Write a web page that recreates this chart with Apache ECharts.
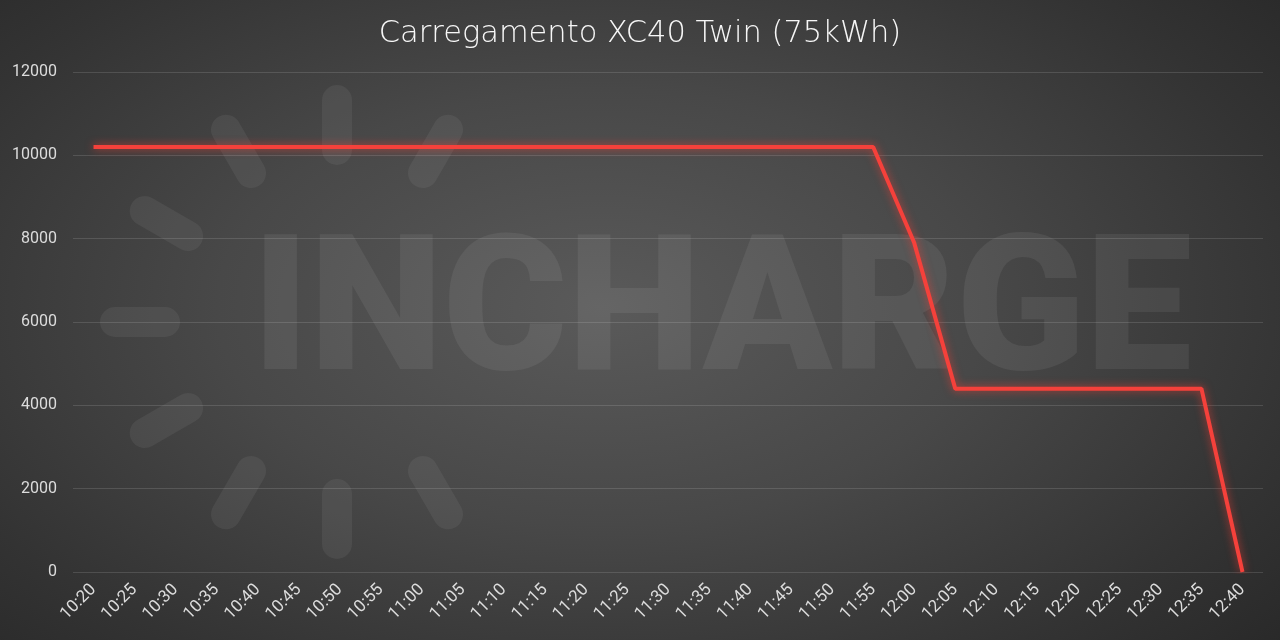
<!DOCTYPE html>
<html>
<head>
<meta charset="utf-8">
<script src="https://cdn.jsdelivr.net/npm/echarts@6/dist/echarts.min.js"></script>
<style>
  html, body { margin: 0; padding: 0; }
  #chart {
    width: 1280px; height: 640px;
    background: radial-gradient(ellipse 75% 85% at 47% 48%, #5a5a5a 0%, #484848 40%, #333333 75%, #262626 100%);
  }
</style>
</head>
<body>
<div id="chart"></div>
<script>
// orari di carica (ogni 5 minuti)
const orari = ['10:20','10:25','10:30','10:35','10:40','10:45','10:50','10:55','11:00','11:05',
  '11:10','11:15','11:20','11:25','11:30','11:35','11:40','11:45','11:50','11:55',
  '12:00','12:05','12:10','12:15','12:20','12:25','12:30','12:35','12:40']
// potenza di carica
const potenza = [10200,10200,10200,10200,10200,10200,10200,10200,10200,10200,
  10200,10200,10200,10200,10200,10200,10200,10200,10200,10200,
  7900,4400,4400,4400,4400,4400,4400,4400,0]
const yTicks = [0, 2000, 4000, 6000, 8000, 10000, 12000]

const chart = echarts.init(document.getElementById('chart'))

// logo watermark (raggi)
const raggi = []
const cx = 337, cy = 322
;[60, 90, 120, 150, 180, 210, 240, 270, 300].forEach(a => {
  const r = a * Math.PI / 180
  raggi.push({
    type: 'line', silent: true, z: -10,
    shape: { x1: cx + 172 * Math.cos(r), y1: cy - 172 * Math.sin(r), x2: cx + 222 * Math.cos(r), y2: cy - 222 * Math.sin(r) },
    style: { stroke: 'rgba(255,255,255,0.06)', lineWidth: 30, lineCap: 'round' }
  })
})

chart.setOption({
  backgroundColor: 'transparent',
  title: {
    text: 'Carregamento XC40 Twin (75kWh)',
    left: 'center',
    top: 14,
    textStyle: { color: '#f7f7f7', fontSize: 30.5, fontWeight: 200, fontFamily: 'DejaVu Sans' }
  },
  graphic: raggi.concat([{
    type: 'text', silent: true, z: -10,
    left: 252, top: 226,
    style: {
      text: 'INCHARGE',
      fill: 'rgba(255,255,255,0.065)',
      font: '900 190px Roboto'
    }
  }]),
  grid: { left: 73, right: 17, top: 72, bottom: 68 },
  xAxis: {
    type: 'category',
    data: orari,
    boundaryGap: true,
    axisLine: { show: false },
    axisTick: { show: false },
    axisLabel: { color: '#dcdcdc', fontSize: 17, rotate: 45, interval: 0, margin: 15, fontFamily: 'Roboto' }
  },
  yAxis: {
    type: 'value',
    min: 0, max: 12000, interval: 2000,
    axisLabel: { color: '#dcdcdc', fontSize: 16, margin: 16, fontFamily: 'Roboto',
      formatter: v => yTicks.includes(v) ? String(v) : '' },
    splitLine: { lineStyle: { color: 'rgba(255,255,255,0.13)', width: 1 } }
  },
  series: [{
    type: 'line',
    data: potenza,
    symbol: 'none',
    lineStyle: { color: '#f5413b', width: 4, shadowColor: 'rgba(255,60,50,0.7)', shadowBlur: 8 }
  }]
})
</script>
</body>
</html>
